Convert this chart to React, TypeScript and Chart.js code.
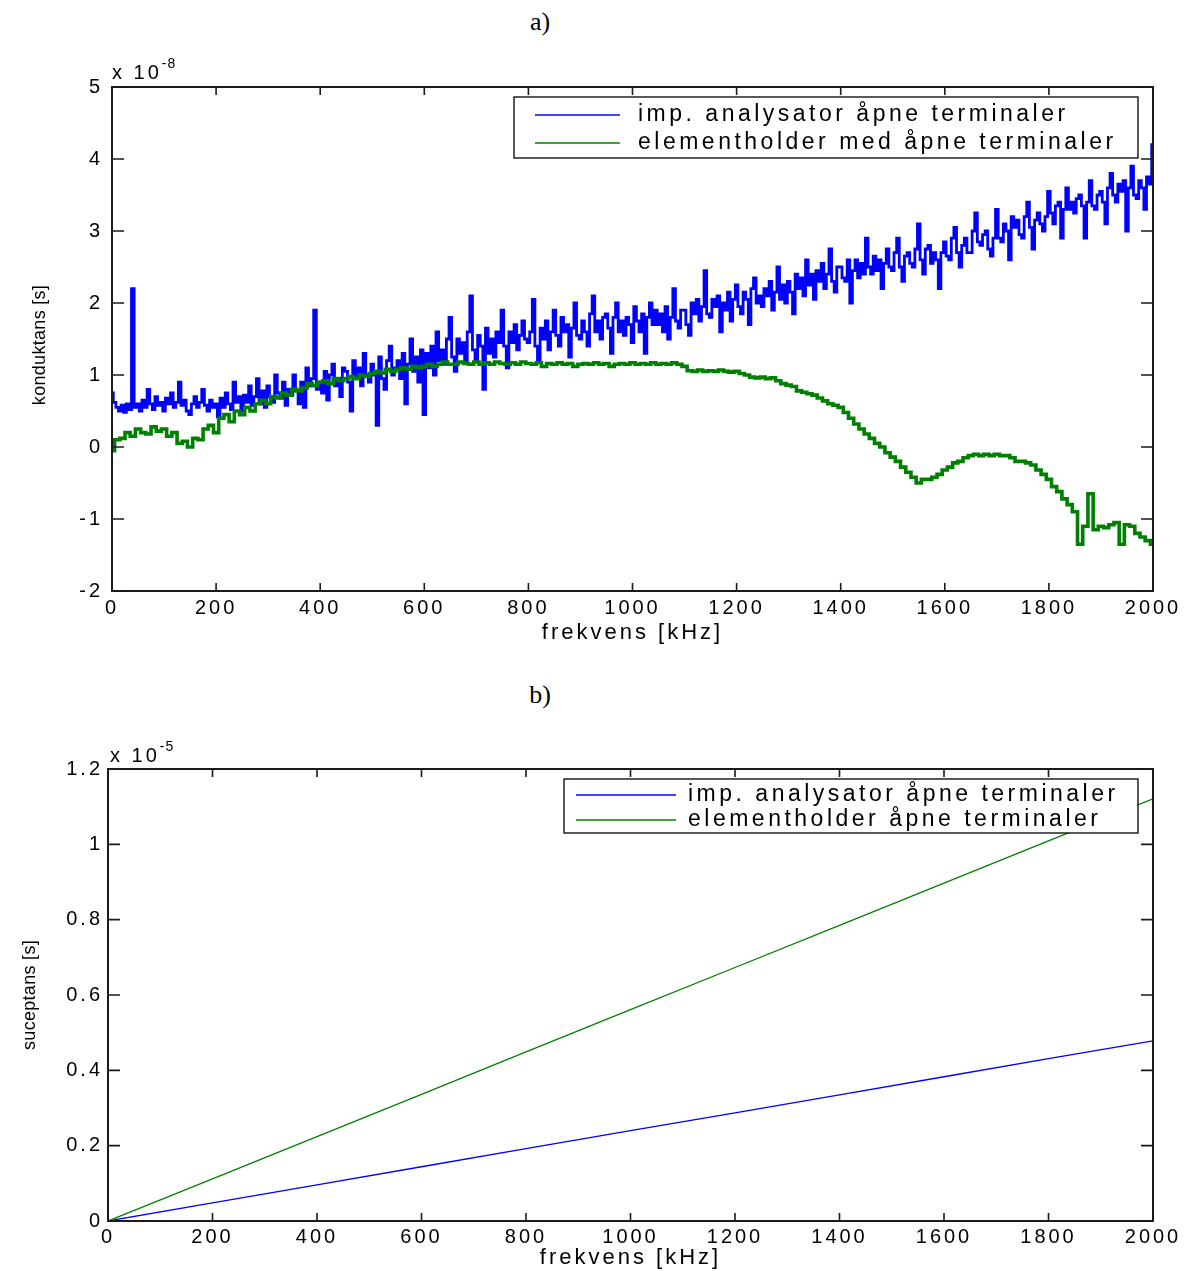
import React, { useEffect, useRef } from 'react';
import { Chart, registerables } from 'chart.js';

Chart.register(...registerables);

// ---------- Chart a) : conductance (units of 1e-8 S) ----------
// impedance analyser, sampled every 5 kHz
const freqBlueA: number[] = [
  0, 5, 10, 15, 20, 25, 30, 35, 40, 45,
  50, 55, 60, 65, 70, 75, 80, 85, 90, 95,
  100, 105, 110, 115, 120, 125, 130, 135, 140, 145,
  150, 155, 160, 165, 170, 175, 180, 185, 190, 195,
  200, 205, 210, 215, 220, 225, 230, 235, 240, 245,
  250, 255, 260, 265, 270, 275, 280, 285, 290, 295,
  300, 305, 310, 315, 320, 325, 330, 335, 340, 345,
  350, 355, 360, 365, 370, 375, 380, 385, 390, 395,
  400, 405, 410, 415, 420, 425, 430, 435, 440, 445,
  450, 455, 460, 465, 470, 475, 480, 485, 490, 495,
  500, 505, 510, 515, 520, 525, 530, 535, 540, 545,
  550, 555, 560, 565, 570, 575, 580, 585, 590, 595,
  600, 605, 610, 615, 620, 625, 630, 635, 640, 645,
  650, 655, 660, 665, 670, 675, 680, 685, 690, 695,
  700, 705, 710, 715, 720, 725, 730, 735, 740, 745,
  750, 755, 760, 765, 770, 775, 780, 785, 790, 795,
  800, 805, 810, 815, 820, 825, 830, 835, 840, 845,
  850, 855, 860, 865, 870, 875, 880, 885, 890, 895,
  900, 905, 910, 915, 920, 925, 930, 935, 940, 945,
  950, 955, 960, 965, 970, 975, 980, 985, 990, 995,
  1000, 1005, 1010, 1015, 1020, 1025, 1030, 1035, 1040, 1045,
  1050, 1055, 1060, 1065, 1070, 1075, 1080, 1085, 1090, 1095,
  1100, 1105, 1110, 1115, 1120, 1125, 1130, 1135, 1140, 1145,
  1150, 1155, 1160, 1165, 1170, 1175, 1180, 1185, 1190, 1195,
  1200, 1205, 1210, 1215, 1220, 1225, 1230, 1235, 1240, 1245,
  1250, 1255, 1260, 1265, 1270, 1275, 1280, 1285, 1290, 1295,
  1300, 1305, 1310, 1315, 1320, 1325, 1330, 1335, 1340, 1345,
  1350, 1355, 1360, 1365, 1370, 1375, 1380, 1385, 1390, 1395,
  1400, 1405, 1410, 1415, 1420, 1425, 1430, 1435, 1440, 1445,
  1450, 1455, 1460, 1465, 1470, 1475, 1480, 1485, 1490, 1495,
  1500, 1505, 1510, 1515, 1520, 1525, 1530, 1535, 1540, 1545,
  1550, 1555, 1560, 1565, 1570, 1575, 1580, 1585, 1590, 1595,
  1600, 1605, 1610, 1615, 1620, 1625, 1630, 1635, 1640, 1645,
  1650, 1655, 1660, 1665, 1670, 1675, 1680, 1685, 1690, 1695,
  1700, 1705, 1710, 1715, 1720, 1725, 1730, 1735, 1740, 1745,
  1750, 1755, 1760, 1765, 1770, 1775, 1780, 1785, 1790, 1795,
  1800, 1805, 1810, 1815, 1820, 1825, 1830, 1835, 1840, 1845,
  1850, 1855, 1860, 1865, 1870, 1875, 1880, 1885, 1890, 1895,
  1900, 1905, 1910, 1915, 1920, 1925, 1930, 1935, 1940, 1945,
  1950, 1955, 1960, 1965, 1970, 1975, 1980, 1985, 1990, 1995,
  2000,
];

const impAnalysatorA: number[] = [
  0.75, 0.62, 0.55, 0.5, 0.58, 0.48, 0.6, 0.52, 2.2, 0.55,
  0.6, 0.5, 0.65, 0.55, 0.8, 0.6, 0.52, 0.7, 0.58, 0.62,
  0.5, 0.68, 0.6, 0.75, 0.55, 0.62, 0.9, 0.58, 0.65, 0.5,
  0.45, 0.6, 0.7, 0.55, 0.62, 0.8, 0.58, 0.5, 0.65, 0.55,
  0.6, 0.42, 0.68, 0.55, 0.75, 0.6, 0.52, 0.9, 0.62, 0.7,
  0.5, 0.72, 0.62, 0.85, 0.58, 0.7, 0.95, 0.6, 0.78, 0.55,
  0.85, 0.7, 0.62, 1.0, 0.75, 0.68, 0.9, 0.58, 0.8, 0.72,
  1.0, 0.78, 0.6, 0.9, 0.55, 1.1, 0.85, 0.95, 1.9, 0.8,
  0.9, 0.75, 1.05, 0.65, 1.0, 1.15, 0.85, 0.95, 0.7, 1.1,
  1.05, 0.9, 0.5, 1.2, 0.95, 1.1, 0.85, 1.3, 1.0, 0.9,
  1.15, 1.0, 0.3, 1.25, 0.95, 0.8, 1.2, 1.4, 1.0, 1.1,
  1.2, 0.95, 1.3, 0.6, 1.15, 1.5, 1.05, 1.25, 0.9, 1.35,
  0.45, 1.3, 1.1, 1.4, 1.0, 1.6, 1.2, 1.35, 1.15, 1.5,
  1.8, 1.25, 1.05, 1.5, 1.3, 1.45, 1.2, 1.6, 2.1, 1.35,
  1.2, 1.55, 1.4, 0.8, 1.65, 1.3, 1.5, 1.25, 1.6, 1.45,
  1.9, 1.4, 1.1, 1.6, 1.45, 1.7, 1.35, 1.55, 1.75, 1.5,
  1.45, 1.6, 2.05, 1.4, 1.2, 1.65, 1.5, 1.75, 1.35, 1.6,
  1.9, 1.55, 1.4, 1.8, 1.6, 1.7, 1.25, 1.65, 2.0, 1.55,
  1.5, 1.75, 1.6, 1.4, 1.85, 2.1, 1.6, 1.75, 1.5, 1.8,
  1.85, 1.65, 1.3, 1.8, 2.0, 1.6, 1.75, 1.55, 1.8, 1.7,
  1.45, 1.95, 1.75, 1.6, 1.85, 1.3, 1.8, 2.0, 1.7, 1.9,
  1.7, 1.85, 1.6, 1.95, 1.5, 1.8, 2.2, 1.75, 1.65, 1.9,
  1.9, 1.7, 1.55, 2.0, 1.85, 2.05, 1.75, 1.95, 2.45, 1.85,
  1.8, 2.05, 1.95, 2.1, 1.6, 2.0, 1.9, 2.15, 1.75, 2.05,
  2.25, 1.95, 1.85, 2.15, 2.05, 1.7, 2.2, 2.35, 2.0, 2.1,
  1.95, 2.2, 2.1, 2.3, 1.9, 2.15, 2.5, 2.05, 2.25, 2.0,
  2.3, 2.15, 1.85, 2.4, 2.2, 2.35, 2.1, 2.6, 2.25, 2.4,
  2.05, 2.45, 2.3, 2.55, 2.2, 2.4, 2.75, 2.3, 2.15, 2.5,
  2.5, 2.35, 2.3, 2.6, 2.0, 2.45, 2.6, 2.35, 2.55, 2.4,
  2.9, 2.5, 2.4, 2.65, 2.45, 2.6, 2.2, 2.55, 2.75, 2.5,
  2.45, 2.7, 2.9, 2.5, 2.3, 2.65, 2.7, 2.55, 2.5, 2.75,
  3.1, 2.6, 2.4, 2.75, 2.8, 2.55, 2.7, 2.6, 2.2, 2.7,
  2.85, 2.65, 2.6, 2.9, 3.05, 2.7, 2.5, 2.8, 2.9, 2.7,
  2.7, 3.0, 3.25, 2.85, 2.8, 2.95, 3.0, 2.75, 2.65, 2.9,
  3.3, 2.9, 2.85, 3.1, 3.0, 2.6, 3.2, 3.05, 3.15, 2.95,
  2.9, 3.2, 3.4, 3.05, 2.75, 3.15, 3.25, 3.1, 3.0, 3.2,
  3.55, 3.25, 3.1, 3.35, 3.4, 2.9, 3.3, 3.6, 3.3, 3.4,
  3.25, 3.45, 3.5, 3.35, 2.9, 3.4, 3.7, 3.35, 3.3, 3.5,
  3.55, 3.4, 3.1, 3.6, 3.8, 3.5, 3.4, 3.65, 3.55, 3.7,
  3.0, 3.6, 3.9, 3.5, 3.45, 3.7, 3.6, 3.3, 3.75, 3.65,
  4.2,
];

// element holder, sampled every 10 kHz
const freqGreenA: number[] = [
  0, 10, 20, 30, 40, 50, 60, 70, 80, 90,
  100, 110, 120, 130, 140, 150, 160, 170, 180, 190,
  200, 210, 220, 230, 240, 250, 260, 270, 280, 290,
  300, 310, 320, 330, 340, 350, 360, 370, 380, 390,
  400, 410, 420, 430, 440, 450, 460, 470, 480, 490,
  500, 510, 520, 530, 540, 550, 560, 570, 580, 590,
  600, 610, 620, 630, 640, 650, 660, 670, 680, 690,
  700, 710, 720, 730, 740, 750, 760, 770, 780, 790,
  800, 810, 820, 830, 840, 850, 860, 870, 880, 890,
  900, 910, 920, 930, 940, 950, 960, 970, 980, 990,
  1000, 1010, 1020, 1030, 1040, 1050, 1060, 1070, 1080, 1090,
  1100, 1110, 1120, 1130, 1140, 1150, 1160, 1170, 1180, 1190,
  1200, 1210, 1220, 1230, 1240, 1250, 1260, 1270, 1280, 1290,
  1300, 1310, 1320, 1330, 1340, 1350, 1360, 1370, 1380, 1390,
  1400, 1410, 1420, 1430, 1440, 1450, 1460, 1470, 1480, 1490,
  1500, 1510, 1520, 1530, 1540, 1550, 1560, 1570, 1580, 1590,
  1600, 1610, 1620, 1630, 1640, 1650, 1660, 1670, 1680, 1690,
  1700, 1710, 1720, 1730, 1740, 1750, 1760, 1770, 1780, 1790,
  1800, 1810, 1820, 1830, 1840, 1850, 1860, 1870, 1880, 1890,
  1900, 1910, 1920, 1930, 1940, 1950, 1960, 1970, 1980, 1990,
  2000,
];

const elementholderA: number[] = [
  -0.05, 0.1, 0.12, 0.2, 0.15, 0.25, 0.2, 0.18, 0.28, 0.22,
  0.25, 0.15, 0.2, 0.05, 0.08, 0.0, 0.12, 0.1, 0.25, 0.3,
  0.2, 0.4, 0.45, 0.35, 0.5, 0.45, 0.55, 0.5, 0.6, 0.65,
  0.6, 0.7, 0.68, 0.75, 0.72, 0.8, 0.78, 0.82, 0.88, 0.85,
  0.9, 0.92, 0.88, 0.95, 0.92, 0.95, 0.98, 0.95, 1.0, 0.98,
  1.02, 1.05, 1.03, 1.08, 1.05, 1.08, 1.1, 1.08, 1.12, 1.1,
  1.12, 1.15, 1.12, 1.15, 1.18, 1.15, 1.15, 1.18, 1.16, 1.15,
  1.18, 1.15, 1.17, 1.15, 1.18, 1.16, 1.15, 1.17, 1.15, 1.18,
  1.16, 1.15, 1.17, 1.12, 1.16, 1.15, 1.17, 1.15, 1.16, 1.12,
  1.15, 1.16, 1.15, 1.17, 1.15, 1.16, 1.12, 1.15, 1.16, 1.15,
  1.17, 1.15, 1.16, 1.15, 1.17, 1.15, 1.16, 1.15, 1.17, 1.15,
  1.12, 1.06, 1.05, 1.07, 1.05, 1.06, 1.05, 1.07, 1.05, 1.04,
  1.05, 1.02, 1.0, 0.97, 0.96, 0.97, 0.95, 0.96, 0.92, 0.88,
  0.86, 0.84, 0.78, 0.76, 0.74, 0.72, 0.68, 0.64, 0.6, 0.58,
  0.55, 0.48, 0.4, 0.32, 0.25, 0.18, 0.12, 0.05, 0.0, -0.08,
  -0.14, -0.2, -0.28, -0.35, -0.42, -0.5, -0.45, -0.45, -0.42, -0.38,
  -0.32, -0.28, -0.22, -0.2, -0.15, -0.12, -0.1, -0.12, -0.1, -0.12,
  -0.1, -0.12, -0.12, -0.15, -0.2, -0.2, -0.22, -0.25, -0.32, -0.38,
  -0.45, -0.55, -0.62, -0.72, -0.8, -0.9, -1.35, -1.1, -0.65, -1.15,
  -1.1, -1.12, -1.08, -1.05, -1.35, -1.08, -1.1, -1.2, -1.25, -1.3,
  -1.35,
];

const legendA: string[] = [
  'imp. analysator åpne terminaler',
  'elementholder med åpne terminaler',
];

// ---------- Chart b) : susceptance (units of 1e-5 S) ----------
const freqB: number[] = [0, 200, 400, 600, 800, 1000, 1200, 1400, 1600, 1800, 2000];
const impAnalysatorB: number[] = [0, 0.048, 0.096, 0.144, 0.192, 0.24, 0.287, 0.335, 0.383, 0.431, 0.478];
const elementholderB: number[] = [0, 0.112, 0.224, 0.336, 0.449, 0.561, 0.673, 0.785, 0.897, 1.009, 1.121];
const legendB: string[] = [
  'imp. analysator åpne terminaler',
  'elementholder åpne terminaler',
];

const BLUE = '#0000ff';
const GREEN = '#008000';
const SANS = '"Liberation Sans", Arial, sans-serif';
const SPACING = '3px';

function xy(xs: number[], ys: number[]) {
  return xs.map((x, i) => ({ x, y: ys[i] }));
}

const spacingPlugin = {
  id: 'letterSpacing',
  beforeLayout(chart: any) {
    chart.ctx.letterSpacing = SPACING;
  },
  beforeDraw(chart: any) {
    chart.ctx.letterSpacing = SPACING;
  },
};

function decorPlugin(opts: any) {
  return {
    id: 'decor',
    afterDraw(chart: any) {
      const ctx = chart.ctx;
      const { left, right, top, bottom } = chart.chartArea;
      ctx.save();
      // frame
      ctx.strokeStyle = '#1a1a1a';
      ctx.lineWidth = 2;
      ctx.strokeRect(left, top, right - left, bottom - top);
      // inward ticks on all sides
      ctx.lineWidth = 1.6;
      ctx.beginPath();
      const xs = chart.scales.x;
      xs.ticks.forEach((t: any) => {
        const px = xs.getPixelForValue(t.value);
        ctx.moveTo(px, bottom);
        ctx.lineTo(px, bottom - opts.xTick);
        ctx.moveTo(px, top);
        ctx.lineTo(px, top + opts.xTick);
      });
      const ys = chart.scales.y;
      ys.ticks.forEach((t: any) => {
        const py = ys.getPixelForValue(t.value);
        ctx.moveTo(left, py);
        ctx.lineTo(left + opts.yTick, py);
        ctx.moveTo(right, py);
        ctx.lineTo(right - opts.yTick, py);
      });
      ctx.stroke();

      // exponent label
      ctx.fillStyle = '#000';
      ctx.letterSpacing = '3px';
      ctx.font = `20px ${SANS}`;
      ctx.textAlign = 'left';
      ctx.textBaseline = 'alphabetic';
      ctx.fillText('x 10', opts.expX, opts.expY);
      const w = ctx.measureText('x 10').width;
      ctx.font = `14px ${SANS}`;
      ctx.letterSpacing = '1px';
      ctx.fillText(opts.expPow, opts.expX + w, opts.expY - 11);

      // y title
      ctx.save();
      ctx.translate(opts.yTitleX, opts.yTitleY);
      ctx.rotate(-Math.PI / 2);
      ctx.font = `18px ${SANS}`;
      ctx.letterSpacing = '0.3px';
      ctx.textAlign = 'center';
      ctx.textBaseline = 'middle';
      ctx.fillText(opts.yTitle, 0, 0);
      ctx.restore();

      // legend
      const L = opts.legend;
      ctx.fillStyle = '#fff';
      ctx.fillRect(L.x, L.y, L.w, L.h);
      ctx.strokeStyle = '#000';
      ctx.lineWidth = 1.3;
      ctx.strokeRect(L.x, L.y, L.w, L.h);
      ctx.font = `${L.font}px ${SANS}`;
      ctx.letterSpacing = L.spacing + 'px';
      ctx.textAlign = 'left';
      ctx.textBaseline = 'middle';
      chart.data.datasets.forEach((ds: any, i: number) => {
        const yy = L.rows[i];
        ctx.strokeStyle = ds.borderColor;
        ctx.lineWidth = L.lineWidth;
        ctx.beginPath();
        ctx.moveTo(L.lx1, yy);
        ctx.lineTo(L.lx2, yy);
        ctx.stroke();
        ctx.fillStyle = '#000';
        ctx.fillText(ds.label, L.tx, yy);
      });
      ctx.restore();
    },
  };
}

function tickFont() {
  return { family: SANS, size: 20 };
}

function xScale(height: number, pad: number, titlePad: number) {
  return {
    type: 'linear',
    min: 0,
    max: 2000,
    afterFit: (s: any) => { s.height = height; },
    grid: { display: false, drawTicks: false },
    border: { display: false },
    ticks: {
      stepSize: 200,
      autoSkip: false,
      maxRotation: 0,
      padding: pad,
      color: '#000',
      font: tickFont(),
      callback: (v: any) => String(v),
    },
    title: {
      display: true,
      text: 'frekvens [kHz]',
      color: '#000',
      font: { family: SANS, size: 22 },
      padding: { top: 0, bottom: titlePad },
    },
  };
}

function makeConfigA(): any {
  return {
    type: 'line',
    data: {
      datasets: [
        {
          label: legendA[0],
          data: xy(freqBlueA, impAnalysatorA),
          borderColor: BLUE,
          backgroundColor: BLUE,
          borderWidth: 2.8,
          pointRadius: 0,
          stepped: 'middle',
          order: 1,
        },
        {
          label: legendA[1],
          data: xy(freqGreenA, elementholderA),
          borderColor: GREEN,
          backgroundColor: GREEN,
          borderWidth: 3.6,
          pointRadius: 0,
          stepped: 'middle',
          order: 0,
        },
      ],
    },
    options: {
      responsive: false,
      animation: false,
      events: [],
      layout: { padding: { top: 87, right: 42, left: 0, bottom: 0 } },
      plugins: { legend: { display: false }, tooltip: { enabled: false }, title: { display: false } },
      scales: {
        x: xScale(69, 5, 14),
        y: {
          type: 'linear',
          min: -2,
          max: 5,
          afterFit: (s: any) => { s.width = 112; },
          grid: { display: false, drawTicks: false },
          border: { display: false },
          ticks: {
            stepSize: 1,
            padding: 9,
            color: '#000',
            font: tickFont(),
            callback: (v: any) => String(v),
          },
        },
      },
    },
    plugins: [
      spacingPlugin,
      decorPlugin({
        xTick: 8,
        yTick: 12,
        expX: 112,
        expY: 79,
        expPow: '-8',
        yTitle: 'konduktans [s]',
        yTitleX: 40,
        yTitleY: 345,
        legend: {
          x: 514, y: 97, w: 624, h: 61,
          rows: [115, 143],
          lx1: 535, lx2: 620, tx: 638,
          font: 23, spacing: 3.5, lineWidth: 1.6,
        },
      }),
    ],
  };
}

function makeConfigB(): any {
  return {
    type: 'line',
    data: {
      datasets: [
        {
          label: legendB[0],
          data: xy(freqB, impAnalysatorB),
          borderColor: BLUE,
          backgroundColor: BLUE,
          borderWidth: 1.3,
          pointRadius: 0,
          order: 1,
        },
        {
          label: legendB[1],
          data: xy(freqB, elementholderB),
          borderColor: GREEN,
          backgroundColor: GREEN,
          borderWidth: 1.3,
          pointRadius: 0,
          order: 0,
        },
      ],
    },
    options: {
      responsive: false,
      animation: false,
      events: [],
      layout: { padding: { top: 109, right: 42, left: 0, bottom: 0 } },
      plugins: { legend: { display: false }, tooltip: { enabled: false }, title: { display: false } },
      scales: {
        x: xScale(50, 4, 0),
        y: {
          type: 'linear',
          min: 0,
          max: 1.2,
          afterFit: (s: any) => { s.width = 108; },
          grid: { display: false, drawTicks: false },
          border: { display: false },
          ticks: {
            stepSize: 0.2,
            padding: 5,
            color: '#000',
            font: tickFont(),
            callback: (v: any) => String(Number(Number(v).toFixed(1))),
          },
        },
      },
    },
    plugins: [
      spacingPlugin,
      decorPlugin({
        xTick: 8,
        yTick: 12,
        expX: 110,
        expY: 102,
        expPow: '-5',
        yTitle: 'suceptans [s]',
        yTitleX: 30,
        yTitleY: 335,
        legend: {
          x: 564, y: 119, w: 574, h: 54,
          rows: [135, 160],
          lx1: 576, lx2: 676, tx: 688,
          font: 23, spacing: 3.5, lineWidth: 1.3,
        },
      }),
    ],
  };
}

export default function App() {
  const refA = useRef<HTMLCanvasElement>(null);
  const refB = useRef<HTMLCanvasElement>(null);

  useEffect(() => {
    const a = new Chart(refA.current as HTMLCanvasElement, makeConfigA());
    const b = new Chart(refB.current as HTMLCanvasElement, makeConfigB());
    return () => {
      a.destroy();
      b.destroy();
    };
  }, []);

  const captionStyle: React.CSSProperties = {
    position: 'absolute',
    left: 0,
    width: 1080,
    textAlign: 'center',
    fontFamily: '"Liberation Serif", "Times New Roman", serif',
    fontSize: 26,
    lineHeight: '30px',
    color: '#000',
  };

  return (
    <div style={{ position: 'absolute', left: 0, top: 0, width: 1195, height: 1271, background: '#fff' }}>
      <div style={{ ...captionStyle, top: 7 }}>a)</div>
      <canvas
        ref={refA}
        width={1195}
        height={660}
        style={{ position: 'absolute', left: 0, top: 0, width: 1195, height: 660 }}
      />
      <div style={{ ...captionStyle, top: 680 }}>b)</div>
      <canvas
        ref={refB}
        width={1195}
        height={611}
        style={{ position: 'absolute', left: 0, top: 660, width: 1195, height: 611 }}
      />
    </div>
  );
}
